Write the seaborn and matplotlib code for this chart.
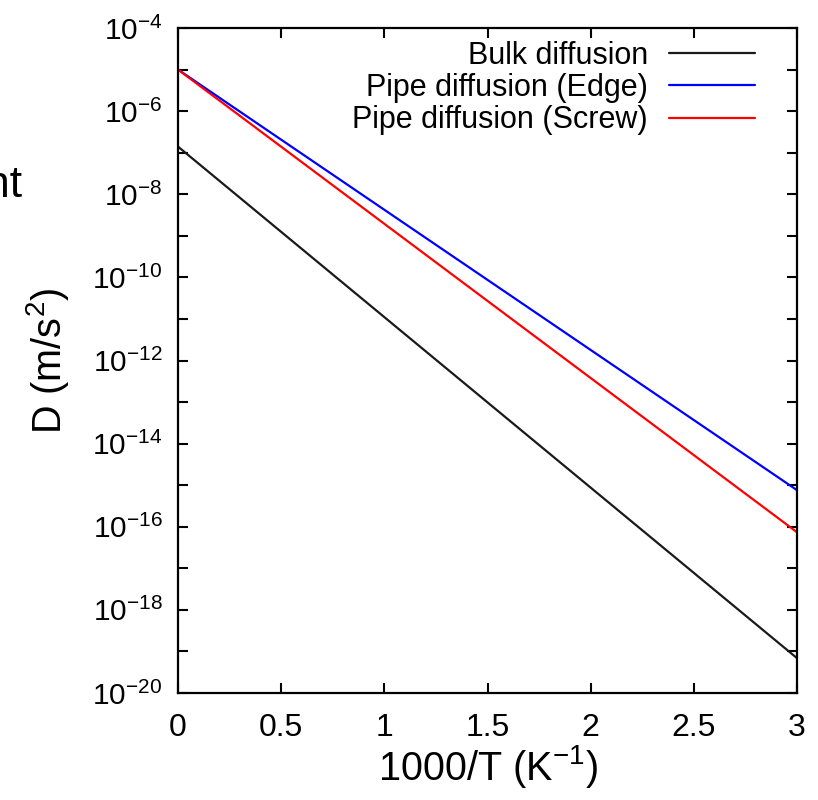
import numpy as np
import pandas as pd
import matplotlib
matplotlib.use("Agg")
import matplotlib.pyplot as plt
import seaborn as sns
from matplotlib.ticker import LogFormatterSciNotation, NullFormatter, FixedLocator

# ---- data ----
series = ["Bulk diffusion", "Pipe diffusion (Edge)", "Pipe diffusion (Screw)"]
x_vals = [0.0, 3.0]
bulk = [1.4e-7, 6.9e-20]
edge = [1.0e-5, 7.6e-16]
screw = [1.0e-5, 7.4e-17]
colors = ["#1a1a1a", "#0000ff", "#ff0000"]
x_ticks = [0, 0.5, 1, 1.5, 2, 2.5, 3]
x_tick_labels = ["0", "0.5", "1", "1.5", "2", "2.5", "3"]
y_major_exp = [-20, -18, -16, -14, -12, -10, -8, -6, -4]
y_minor_exp = [-19, -17, -15, -13, -11, -9, -7, -5]

df = pd.DataFrame({
    "x": x_vals * 3,
    "D": bulk + edge + screw,
    "series": [series[0]] * 2 + [series[1]] * 2 + [series[2]] * 2,
})

sns.set_theme(style="white")
plt.rcParams["font.family"] = ["Liberation Sans", "DejaVu Sans"]
plt.rcParams["mathtext.fontset"] = "custom"
plt.rcParams["mathtext.rm"] = "Liberation Sans"
plt.rcParams["mathtext.it"] = "Liberation Sans"
plt.rcParams["mathtext.bf"] = "Liberation Sans"
plt.rcParams["text.color"] = "black"
plt.rcParams["axes.labelcolor"] = "black"

fig = plt.figure(figsize=(8.18, 8.0), dpi=100)
ax = fig.add_axes([178 / 818, 1 - 693 / 800, (797 - 178) / 818, (693 - 28) / 800])

sns.lineplot(data=df, x="x", y="D", hue="series", hue_order=series,
             palette=colors, linewidth=1.6, ax=ax, legend=True)

ax.set_yscale("log")
ax.set_xlim(0, 3)
ax.set_ylim(1e-20, 1e-4)

ax.xaxis.set_major_locator(FixedLocator(x_ticks))
ax.set_xticklabels(x_tick_labels)
ax.yaxis.set_major_locator(FixedLocator([10.0 ** e for e in y_major_exp]))
ax.yaxis.set_major_formatter(LogFormatterSciNotation())
ax.yaxis.set_minor_locator(FixedLocator([10.0 ** e for e in y_minor_exp]))
ax.yaxis.set_minor_formatter(NullFormatter())

for s in ax.spines.values():
    s.set_visible(True)
    s.set_color("black")
    s.set_linewidth(1.6)

ax.tick_params(axis="both", which="both", direction="in", top=True, right=True,
               left=True, bottom=True, length=7, width=1.5, color="black",
               labelcolor="black")
ax.tick_params(axis="x", which="major", pad=14.5, labelsize=23)
ax.tick_params(axis="y", which="major", pad=11, labelsize=21.5)

ax.set_xlabel("1000/T (K$^{-1}$)", fontsize=28.5, color="black")
ax.set_ylabel("D (m/s$^{2}$)", fontsize=28.5, color="black")
ax.xaxis.set_label_coords(0.5, -0.075)
ax.yaxis.set_label_coords(-0.173, 0.5)

handles, labels = ax.get_legend_handles_labels()
leg = ax.legend(handles, labels, loc="upper right", frameon=False, fontsize=22,
                markerfirst=False, handlelength=2.8, handletextpad=0.7,
                labelspacing=0.07, borderaxespad=0.0, borderpad=0.0,
                bbox_to_anchor=(0.932, 0.9805))
for t in leg.get_texts():
    t.set_ha("right")
    t.set_color("black")
leg._legend_box.align = "right"

fig.text(-15 / 818, 1 - 197 / 800, "nt", fontsize=32, va="baseline", ha="left", color="black")

fig.savefig("out.png", dpi=100)
